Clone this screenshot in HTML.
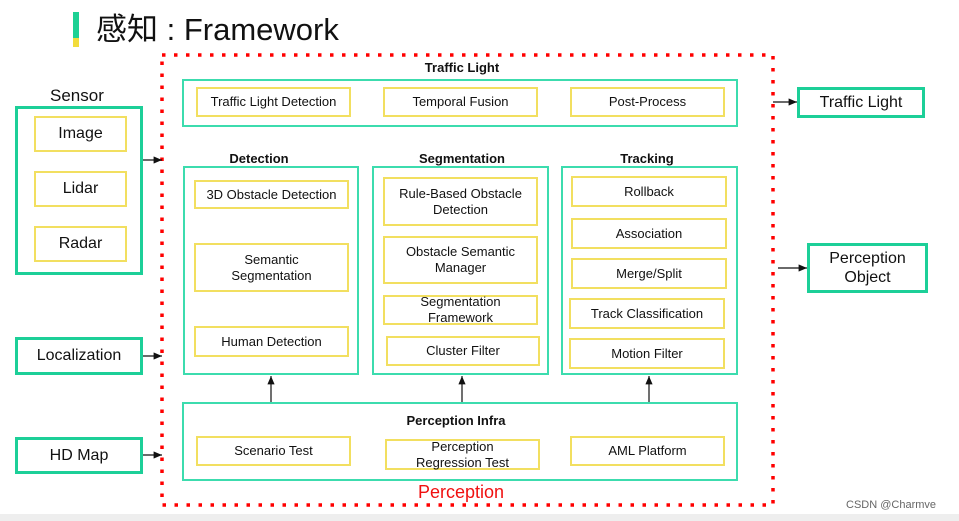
<!DOCTYPE html>
<html><head><meta charset="utf-8"><style>
body{margin:0;width:959px;height:521px;background:#fff;position:relative;overflow:hidden;font-family:"Liberation Sans","Noto Sans CJK SC",sans-serif;color:#111}
.a{position:absolute;box-sizing:border-box;display:flex;align-items:center;justify-content:center;text-align:center;line-height:16px}
.g{border:2px solid #3cdcae}
.G{border:3px solid #1ccf98}
.y{border:2px solid #f2df60;font-size:13px}
.l{position:absolute;font-weight:bold;font-size:13px;transform:translateX(-50%);white-space:nowrap}
</style></head><body>
<div style="position:absolute;left:0;top:514px;width:959px;height:7px;background:#eeeeee"></div>
<div style="position:absolute;left:73px;top:12px;width:6px;height:26px;background:#1dd194"></div>
<div style="position:absolute;left:73px;top:38px;width:6px;height:9px;background:#f2dc3c"></div>
<div style="position:absolute;left:96px;top:11px;font-size:31px;line-height:38px">感知 : Framework</div>
<svg style="position:absolute;left:0;top:0" width="959" height="521">
<defs><marker id="m" markerWidth="7" markerHeight="6" refX="7" refY="3" orient="auto"><path d="M0,0L7,3L0,6z" fill="#111"/></marker></defs>
<rect x="162" y="55" width="611" height="450" fill="none" stroke="#f00" stroke-width="3.5" stroke-dasharray="3.5,8.5"/>
<g stroke="#111" stroke-width="1.2" marker-end="url(#m)">
<line x1="143" y1="160" x2="162" y2="160"/>
<line x1="143" y1="356" x2="162" y2="356"/>
<line x1="143" y1="455" x2="162" y2="455"/>
<line x1="773" y1="102" x2="797" y2="102"/>
<line x1="778" y1="268" x2="807" y2="268"/>
<line x1="271" y1="402" x2="271" y2="376"/>
<line x1="462" y1="402" x2="462" y2="376"/>
<line x1="649" y1="402" x2="649" y2="376"/>
</g></svg>
<div class="l" style="left:462px;top:60px">Traffic Light</div>
<div class="a g" style="left:182px;top:79px;width:556px;height:48px"></div>
<div class="a y" style="left:196px;top:87px;width:155px;height:30px">Traffic Light Detection</div>
<div class="a y" style="left:383px;top:87px;width:155px;height:30px">Temporal Fusion</div>
<div class="a y" style="left:570px;top:87px;width:155px;height:30px">Post-Process</div>
<div style="position:absolute;left:50px;top:86px;font-size:17px">Sensor</div>
<div class="a G" style="left:15px;top:106px;width:128px;height:169px"></div>
<div class="a y" style="left:34px;top:116px;width:93px;height:36px;font-size:16px">Image</div>
<div class="a y" style="left:34px;top:171px;width:93px;height:36px;font-size:16px">Lidar</div>
<div class="a y" style="left:34px;top:226px;width:93px;height:36px;font-size:16px">Radar</div>
<div class="a G" style="left:15px;top:337px;width:128px;height:38px;font-size:16px">Localization</div>
<div class="a G" style="left:15px;top:437px;width:128px;height:37px;font-size:16px">HD Map</div>
<div class="a G" style="left:797px;top:87px;width:128px;height:31px;font-size:16px">Traffic Light</div>
<div class="a G" style="left:807px;top:243px;width:121px;height:50px;font-size:16px;line-height:19px">Perception<br>Object</div>
<div class="l" style="left:259px;top:151px">Detection</div>
<div class="a g" style="left:183px;top:166px;width:176px;height:209px"></div>
<div class="a y" style="left:194px;top:180px;width:155px;height:29px">3D Obstacle Detection</div>
<div class="a y" style="left:194px;top:243px;width:155px;height:49px">Semantic<br>Segmentation</div>
<div class="a y" style="left:194px;top:326px;width:155px;height:31px">Human Detection</div>
<div class="l" style="left:462px;top:151px">Segmentation</div>
<div class="a g" style="left:372px;top:166px;width:177px;height:209px"></div>
<div class="a y" style="left:383px;top:177px;width:155px;height:49px">Rule-Based Obstacle<br>Detection</div>
<div class="a y" style="left:383px;top:236px;width:155px;height:48px">Obstacle Semantic<br>Manager</div>
<div class="a y" style="left:383px;top:295px;width:155px;height:30px">Segmentation<br>Framework</div>
<div class="a y" style="left:386px;top:336px;width:154px;height:30px">Cluster Filter</div>
<div class="l" style="left:647px;top:151px">Tracking</div>
<div class="a g" style="left:561px;top:166px;width:177px;height:209px"></div>
<div class="a y" style="left:571px;top:176px;width:156px;height:31px">Rollback</div>
<div class="a y" style="left:571px;top:218px;width:156px;height:31px">Association</div>
<div class="a y" style="left:571px;top:258px;width:156px;height:31px">Merge/Split</div>
<div class="a y" style="left:569px;top:298px;width:156px;height:31px">Track Classification</div>
<div class="a y" style="left:569px;top:338px;width:156px;height:31px">Motion Filter</div>
<div class="a g" style="left:182px;top:402px;width:556px;height:79px"></div>
<div class="l" style="left:456px;top:413px">Perception Infra</div>
<div class="a y" style="left:196px;top:436px;width:155px;height:30px">Scenario Test</div>
<div class="a y" style="left:385px;top:439px;width:155px;height:31px">Perception<br>Regression Test</div>
<div class="a y" style="left:570px;top:436px;width:155px;height:30px">AML Platform</div>
<div style="position:absolute;left:418px;top:482px;font-size:18px;color:#f01010">Perception</div>
<div style="position:absolute;left:846px;top:499px;font-size:11px;color:#666">CSDN @Charmve</div>
</body></html>
